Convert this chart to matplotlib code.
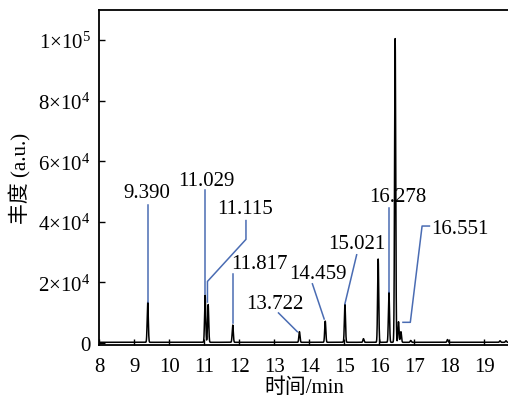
import numpy as np
import matplotlib
matplotlib.use('Agg')
import matplotlib.pyplot as plt

plt.rcParams['font.family'] = ['Liberation Serif', 'Noto Sans CJK SC']
plt.rcParams['mathtext.fontset'] = 'custom'
plt.rcParams['mathtext.rm'] = 'Liberation Serif'
plt.rcParams['font.size'] = 15

# peaks of the chromatogram: retention time (min) and height (a.u.)
peak_times = [9.390, 11.029, 11.115, 11.817, 13.722, 14.459, 15.021, 15.55,
              15.97, 16.278, 16.455, 16.551, 16.62, 16.9, 17.95, 19.45, 19.62]
peak_heights = [13200, 15600, 12500, 5700, 3500, 7000, 12500, 1200,
                27500, 16500, 100500, 6800, 3500, 600, 900, 500, 500]
baseline = 200

# labelled peaks
labels = ['9.390', '11.029', '11.115', '11.817', '13.722',
          '14.459', '15.021', '16.278', '16.551']

# label text positions and leader lines (data coords)
text_pos = [(9.36, 49600), (11.05, 53700), (12.17, 44300), (12.59, 26100),
            (13.02, 12900), (14.26, 22800), (15.36, 32700), (16.53, 48200),
            (18.29, 37900)]
leaders = [
    [(9.39, 45700), (9.39, 13600)],
    [(11.026, 50400), (11.026, 16200)],
    [(12.195, 40400), (12.195, 34200), (11.095, 20300), (11.095, 13500)],
    [(11.813, 22800), (11.813, 6600)],
    [(13.124, 9900), (13.661, 3700)],
    [(14.092, 19500), (14.428, 7900)],
    [(15.356, 29100), (15.020, 12900)],
    [(16.284, 44500), (16.284, 16800)],
    [(17.434, 38600), (17.224, 38600), (16.888, 6800), (16.678, 6800)],
]

t = np.arange(8.0, 19.76, 0.002)
signal = np.full_like(t, baseline, dtype=float)
for rt, h in zip(peak_times, peak_heights):
    signal += h * np.exp(-0.5 * ((t - rt) / 0.016) ** 2)

fig = plt.figure(figsize=(5.08, 4.02), dpi=100)
ax = fig.add_axes([0.195, 0.14, 0.81, 0.833])
ax.plot(t, signal, color='black', lw=1.1)

blue = '#4a6cb3'
for lab, (tx, ty), pts in zip(labels, text_pos, leaders):
    xs, ys = zip(*pts)
    ax.plot(xs, ys, color=blue, lw=1.1)
    ax.text(tx, ty, lab, ha='center', va='center', fontsize=15)

ax.set_xlim(8, 19.75)
ax.set_ylim(-600, 110000)
ax.set_xticks(range(8, 20))
yt = [0, 20000, 40000, 60000, 80000, 100000]
ax.set_yticks(yt)
ax.set_yticklabels(['0', r'$\mathregular{2×10^4}$', r'$\mathregular{4×10^4}$',
                    r'$\mathregular{6×10^4}$', r'$\mathregular{8×10^4}$',
                    r'$\mathregular{1×10^5}$'])
ax.tick_params(direction='in', length=4, width=1, labelsize=15)
ax.tick_params(axis='x', pad=9)
ax.tick_params(axis='y', pad=6)
ax.spines['right'].set_visible(False)
for s in ['left', 'bottom', 'top']:
    ax.spines[s].set_linewidth(1.3)

ax.set_xlabel('时间/min', fontsize=15, labelpad=1)
ax.set_ylabel('丰度 (a.u.)', fontsize=15, labelpad=5)

fig.savefig('out.png', dpi=100)
